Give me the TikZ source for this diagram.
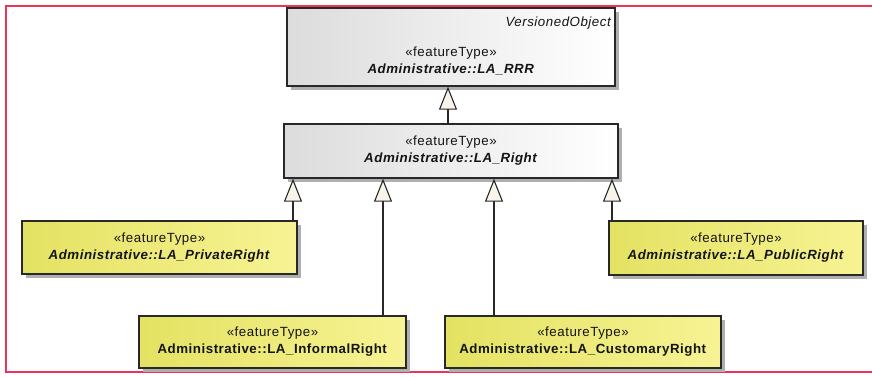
\documentclass[tikz,border=0pt]{standalone}
\usepackage{fontspec}
\setmainfont{Liberation Sans}[LetterSpace=4]
\usetikzlibrary{arrows.meta,shadows}

\definecolor{framered}{RGB}{236,50,88}
\definecolor{boxline}{RGB}{40,40,40}
\definecolor{textdark}{RGB}{20,20,20}
\definecolor{yellowL}{RGB}{228,226,98}
\definecolor{yellowR}{RGB}{247,243,148}
\definecolor{grayL}{RGB}{220,220,220}
\definecolor{grayR}{RGB}{255,255,255}
\definecolor{tipfill}{RGB}{248,244,234}
\definecolor{shadowgray}{RGB}{175,175,175}

\newcommand{\stereo}{«featureType»}

\begin{document}
\begin{tikzpicture}[x=1pt,y=-1pt,
  umlbox/.style={draw=boxline, line width=1.3pt, inner sep=0pt,
    general shadow={fill=shadowgray, shadow xshift=4pt, shadow yshift=-4pt},
    text=textdark, align=center, font=\fontsize{13.3}{17}\selectfont},
  graybox/.style={umlbox, left color=grayL, right color=grayR},
  yellowbox/.style={umlbox, left color=yellowL, right color=yellowR},
  lbl/.style={text=textdark, align=center, inner sep=0pt, font=\fontsize{13.3}{17}\selectfont},
  gen/.style={draw=boxline, line width=1.3pt,
    -{Triangle[width=18pt, length=23pt, fill=tipfill, line width=1.1pt]}}
]
\useasboundingbox (0,0) rectangle (872,376);

% diagram frame (open on the right)
\draw[framered, line width=2.5pt] (872,6) -- (6,6) -- (6,372) -- (872,372);

% abstract parent classes
\node[graybox, minimum width=328pt, minimum height=78pt] (rrr) at (451,47) {};
\node[lbl, anchor=east, font=\fontsize{13.3}{17}\selectfont\itshape] (vo) at (611,23) {VersionedObject};
\node[lbl] (rrrtxt) at (451,61) {\stereo\\\textbf{\textit{Administrative::LA\_RRR}}};

\node[graybox, minimum width=334pt, minimum height=54pt] (right) at (451,151)
  {\stereo\\\textbf{\textit{Administrative::LA\_Right}}};

% concrete right types
\node[yellowbox, minimum width=275pt, minimum height=53pt] (pri) at (159.5,247.5)
  {\stereo\\\textbf{\textit{Administrative::LA\_PrivateRight}}};
\node[yellowbox, minimum width=254pt, minimum height=54pt] (pub) at (736,248)
  {\stereo\\\textbf{\textit{Administrative::LA\_PublicRight}}};
\node[yellowbox, minimum width=267pt, minimum height=52pt] (inf) at (272.5,342)
  {\stereo\\\textbf{Administrative::LA\_InformalRight}};
\node[yellowbox, minimum width=276pt, minimum height=52pt] (cus) at (583,342)
  {\stereo\\\textbf{Administrative::LA\_CustomaryRight}};

% connector columns
\coordinate (c0) at (448,0);
\coordinate (c1) at (293,0);
\coordinate (c2) at (383,0);
\coordinate (c3) at (494,0);
\coordinate (c4) at (612,0);

% generalisations
\draw[gen] (right.north -| c0) -- (rrr.south -| c0);
\draw[gen] (pri.north -| c1) -- (right.south -| c1);
\draw[gen] (inf.north -| c2) -- (right.south -| c2);
\draw[gen] (cus.north -| c3) -- (right.south -| c3);
\draw[gen] (pub.north -| c4) -- (right.south -| c4);
\end{tikzpicture}
\end{document}
